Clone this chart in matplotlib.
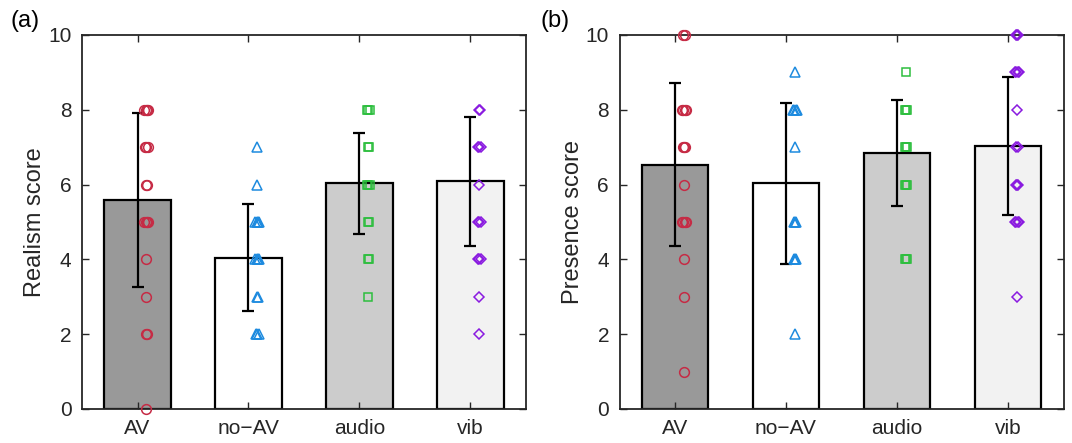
import matplotlib
matplotlib.use("Agg")
import matplotlib.pyplot as plt
import numpy as np

plt.rcParams['font.family'] = ['Liberation Sans', 'DejaVu Sans']

categories = ["AV", "no\u2212AV", "audio", "vib"]

realism_mean = [5.58, 4.04, 6.03, 6.09]
realism_sd = [2.33, 1.43, 1.35, 1.73]
presence_mean = [6.53, 6.03, 6.84, 7.03]
presence_sd = [2.18, 2.16, 1.42, 1.85]

realism_AV = [8, 8, 8, 8, 7, 7, 7, 6, 6, 5, 5, 5, 5, 4, 3, 2, 2, 0]
realism_noAV = [7, 6, 5, 5, 5, 5, 4, 4, 4, 4, 3, 3, 2, 2, 2]
realism_audio = [8, 8, 8, 7, 7, 6, 6, 6, 5, 5, 4, 4, 3]
realism_vib = [8, 8, 7, 7, 7, 6, 5, 5, 5, 4, 4, 4, 3, 2]

presence_AV = [10, 10, 8, 8, 8, 8, 7, 7, 7, 6, 5, 5, 5, 5, 4, 3, 1]
presence_noAV = [9, 8, 8, 8, 8, 7, 5, 5, 5, 4, 4, 4, 2]
presence_audio = [9, 8, 8, 8, 7, 7, 7, 6, 6, 6, 4, 4, 4]
presence_vib = [10, 10, 10, 9, 9, 9, 9, 8, 7, 7, 6, 6, 6, 5, 5, 5, 5, 3]

bar_colors = ["#999999", "#FFFFFF", "#CCCCCC", "#F2F2F2"]
pt_colors = ["#C62B45", "#1E8BDF", "#2DBE3E", "#8A1BE0"]
pt_markers = ["o", "^", "s", "D"]
pt_sizes = [7, 7, 5.5, 5.5]

fig = plt.figure(figsize=(10.72, 4.43), dpi=100)
ax_a = fig.add_axes([82 / 1072, 34 / 443, 444 / 1072, 374 / 443])
ax_b = fig.add_axes([619.5 / 1072, 34 / 443, 444 / 1072, 374 / 443])


def draw(ax, means, sds, groups, ylabel):
    x = np.arange(1, len(categories) + 1)
    ax.bar(x, means, width=0.6, color=bar_colors, edgecolor="black",
           linewidth=1.6, zorder=1)
    ax.errorbar(x, means, yerr=sds, fmt="none", ecolor="black",
                elinewidth=1.6, capsize=4, capthick=1.6, zorder=3)
    for i, vals in enumerate(groups):
        vals = np.asarray(vals)
        for v in np.unique(vals):
            n = int(np.sum(vals == v))
            offs = 0.08 + (np.arange(n) - (n - 1) / 2) * 0.012
            ax.plot(x[i] + offs, [v] * n, linestyle="none",
                    marker=pt_markers[i], markersize=pt_sizes[i],
                    markerfacecolor="none", markeredgecolor=pt_colors[i],
                    markeredgewidth=1.1, zorder=4, clip_on=False)
    ax.set_xlim(0.5, 4.5)
    ax.set_ylim(0, 10)
    ax.set_xticks(x)
    ax.set_xticklabels(categories)
    ax.set_yticks(np.arange(0, 11, 2))
    ax.tick_params(direction="in", length=5, width=1, top=True, right=True,
                   labelsize=15, colors="#262626", labelcolor="#262626")
    ax.tick_params(axis="y", pad=7.5)
    ax.tick_params(axis="x", pad=7.5)
    for s in ax.spines.values():
        s.set_color("#262626")
        s.set_linewidth(1.3)
    ax.set_ylabel(ylabel, fontsize=17, color="#262626", labelpad=1.5)


draw(ax_a, realism_mean, realism_sd,
     [realism_AV, realism_noAV, realism_audio, realism_vib], "Realism score")
draw(ax_b, presence_mean, presence_sd,
     [presence_AV, presence_noAV, presence_audio, presence_vib], "Presence score")

fig.text(11 / 1072, 1 - 21 / 443, "(a)", fontsize=17, va="center", ha="left")
fig.text(540 / 1072, 1 - 21 / 443, "(b)", fontsize=17, va="center", ha="left")

fig.savefig("out.png", dpi=100)
